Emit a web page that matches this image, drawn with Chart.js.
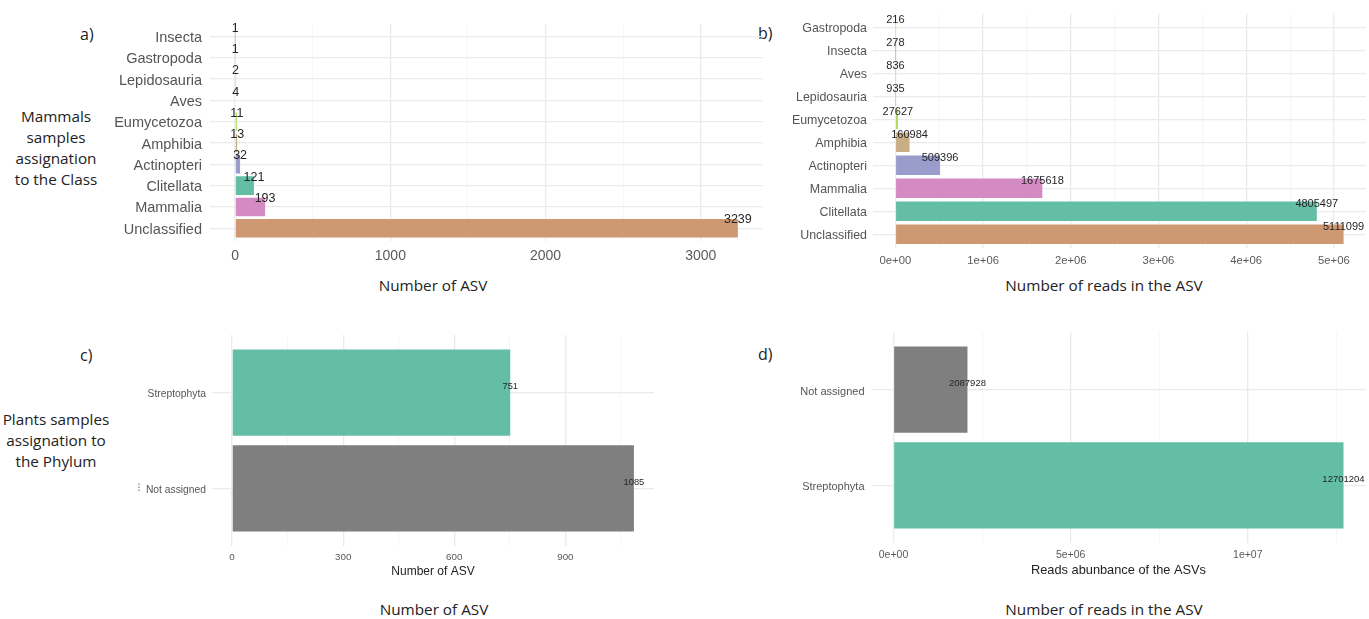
<!DOCTYPE html>
<html>
<head>
<meta charset="utf-8">
<script src="https://cdn.jsdelivr.net/npm/chart.js@4.4.1/dist/chart.umd.min.js"></script>
<style>
  html, body { margin: 0; padding: 0; background: #fff; }
  body { width: 1369px; height: 619px; position: relative; overflow: hidden; }
  .box { position: absolute; }
  .note { position: absolute; font-family: 'Open Sans', sans-serif; color: #222; white-space: nowrap; }
  .center { transform: translate(-50%, -50%); text-align: center; }
  .midy { transform: translateY(-50%); }
</style>
</head>
<body>

<div class="note midy" style="left:80px; top:34px; font-size:16px;">a)</div>
<div class="note midy" style="left:758px; top:33px; font-size:16px;">b)</div>
<div class="note midy" style="left:80px; top:355px; font-size:16px;">c)</div>
<div class="note midy" style="left:758px; top:354px; font-size:16px;">d)</div>

<div class="note center" style="left:56px; top:148px; font-size:15.3px; line-height:21px;">Mammals<br>samples<br>assignation<br>to the Class</div>
<div class="note center" style="left:56px; top:440px; font-size:15.3px; line-height:21px;">Plants samples<br>assignation to<br>the Phylum</div>
<div class="note center" style="left:139px; top:487px; font-size:12px; color:#888; font-family:'DejaVu Sans';">⁝</div>

<div class="note center" style="left:433px; top:285px; font-size:15.3px;">Number of ASV</div>
<div class="note center" style="left:1104px; top:285px; font-size:15.3px;">Number of reads in the ASV</div>
<div class="note center" style="left:434px; top:609px; font-size:15.3px;">Number of ASV</div>
<div class="note center" style="left:1104px; top:609px; font-size:15.3px;">Number of reads in the ASV</div>

<div class="box" style="left:110px; top:7px; width:655px; height:259px;"><canvas id="chartA"></canvas></div>
<div class="box" style="left:790px; top:0px; width:579px; height:272px;"><canvas id="chartB"></canvas></div>
<div class="box" style="left:112px; top:320px; width:544px; height:259px;"><canvas id="chartC"></canvas></div>
<div class="box" style="left:771px; top:317px; width:598px; height:261px;"><canvas id="chartD"></canvas></div>

<script>
// ---- Mammal samples: ASV counts per class (top to bottom) ----
const classesA = ['Insecta', 'Gastropoda', 'Lepidosauria', 'Aves', 'Eumycetozoa', 'Amphibia', 'Actinopteri', 'Clitellata', 'Mammalia', 'Unclassified'];
const asvA = [1, 1, 2, 4, 11, 13, 32, 121, 193, 3239];
const ticksA = [0, 1000, 2000, 3000];
const tickLabelsA = ['0', '1000', '2000', '3000'];
const minorA = [500, 1500, 2500];

// ---- Mammal samples: reads per class (top to bottom) ----
const classesB = ['Gastropoda', 'Insecta', 'Aves', 'Lepidosauria', 'Eumycetozoa', 'Amphibia', 'Actinopteri', 'Mammalia', 'Clitellata', 'Unclassified'];
const readsB = [216, 278, 836, 935, 27627, 160984, 509396, 1675618, 4805497, 5111099];
const ticksB = [0, 1e6, 2e6, 3e6, 4e6, 5e6];
const tickLabelsB = ['0e+00', '1e+06', '2e+06', '3e+06', '4e+06', '5e+06'];
const minorB = [0.5e6, 1.5e6, 2.5e6, 3.5e6, 4.5e6];

// ---- Plant samples: ASV counts per phylum ----
const phylaC = ['Streptophyta', 'Not assigned'];
const asvC = [751, 1085];
const ticksC = [0, 300, 600, 900];
const tickLabelsC = ['0', '300', '600', '900'];
const minorC = [150, 450, 750, 1050];

// ---- Plant samples: reads per phylum ----
const phylaD = ['Not assigned', 'Streptophyta'];
const readsD = [2087928, 12701204];
const ticksD = [0, 5e6, 1e7];
const tickLabelsD = ['0e+00', '5e+06', '1e+07'];
const minorD = [2.5e6, 7.5e6, 1.25e7];

const classColors = {
  Unclassified: '#CD9872', Mammalia: '#D48BC4', Clitellata: '#63BEA5', Actinopteri: '#9A9DCB',
  Amphibia: '#C8AD85', Eumycetozoa: '#A6D854', Aves: '#F0C48A', Lepidosauria: '#B3B3B3',
  Gastropoda: '#FFD92F', Insecta: '#FC8D62'
};
const phylumColors = { 'Streptophyta': '#63BEA5', 'Not assigned': '#7F7F7F' };

// Writes each bar's value at the end of the bar
const barValueLabels = {
  id: 'barValueLabels',
  afterDatasetsDraw(chart, args, opts) {
    const ctx = chart.ctx;
    const meta = chart.getDatasetMeta(0);
    const data = chart.data.datasets[0].data;
    ctx.save();
    ctx.font = opts.font;
    ctx.fillStyle = opts.color;
    ctx.textAlign = 'center';
    ctx.textBaseline = 'middle';
    meta.data.forEach((bar, i) => {
      const p = bar.getProps(['x', 'y', 'height'], true);
      const y = opts.anchor === 'top' ? p.y - p.height / 2 + opts.dy : p.y + opts.dy;
      ctx.fillText(String(data[i].x), p.x, y);
    });
    ctx.restore();
  }
};

function makeBarChart(id, cfg) {
  const n = cfg.cats.length;
  const maxV = Math.max(...cfg.values);
  const major = new Set(cfg.ticks);
  return new Chart(document.getElementById(id), {
    type: 'bar',
    data: {
      datasets: [{
        data: cfg.values.map((v, i) => ({ x: v, y: i })),
        backgroundColor: cfg.cats.map(c => cfg.colors[c]),
        borderWidth: 0,
        barPercentage: 1,
        categoryPercentage: cfg.barWidth
      }]
    },
    options: {
      indexAxis: 'y',
      responsive: true,
      maintainAspectRatio: false,
      animation: false,
      devicePixelRatio: 1,
      layout: { padding: { top: cfg.padTop, right: cfg.padRight, left: 0, bottom: 0 } },
      plugins: {
        legend: { display: false },
        tooltip: { enabled: false },
        barValueLabels: { font: cfg.valueFont, color: '#262626', anchor: cfg.anchor, dy: cfg.dy }
      },
      scales: {
        x: {
          type: 'linear',
          position: 'bottom',
          offset: false,
          min: -0.05 * maxV,
          max: 1.05 * maxV,
          border: { display: false },
          grid: {
            offset: false,
            drawTicks: false,
            color: c => major.has(c.tick.value) ? '#EBEBEB' : '#F4F4F4',
            lineWidth: c => major.has(c.tick.value) ? 1.3 : 0.8
          },
          afterBuildTicks: s => {
            s.ticks = cfg.ticks.concat(cfg.minor).sort((a, b) => a - b).map(v => ({ value: v }));
          },
          afterFit: s => { s.height = cfg.xAxisH; },
          ticks: {
            autoSkip: false,
            maxRotation: 0,
            padding: cfg.xPad,
            color: '#5a5a5a',
            font: { family: 'Liberation Sans', size: cfg.xTickSize },
            callback: v => {
              const k = cfg.ticks.indexOf(v);
              return k >= 0 ? cfg.tickLabels[k] : '';
            }
          },
          title: cfg.xTitle ? {
            display: true,
            text: cfg.xTitle,
            color: '#222',
            padding: 0,
            font: { family: 'Liberation Sans', size: cfg.xTitleSize }
          } : { display: false }
        },
        y: {
          type: 'linear',
          position: 'left',
          reverse: true,
          offset: false,
          min: -0.6,
          max: n - 0.4,
          border: { display: false },
          grid: { offset: false, drawTicks: false, color: '#EBEBEB', lineWidth: 1.3 },
          afterBuildTicks: s => { s.ticks = cfg.cats.map((c, i) => ({ value: i })); },
          afterFit: s => { s.width = cfg.yAxisW; },
          ticks: {
            autoSkip: false,
            padding: cfg.yPad,
            labelOffset: cfg.yLabelShift,
            color: '#555',
            font: { family: 'Liberation Sans', size: cfg.yTickSize },
            callback: v => cfg.cats[v]
          }
        }
      }
    },
    plugins: [barValueLabels]
  });
}

makeBarChart('chartA', {
  cats: classesA, values: asvA, colors: classColors,
  ticks: ticksA, tickLabels: tickLabelsA, minor: minorA,
  barWidth: 0.87, padTop: 14, padRight: 2, yAxisW: 100, xAxisH: 25,
  xPad: 7, yPad: 8, yLabelShift: 1.5, xTickSize: 14, yTickSize: 14.5,
  valueFont: '12.5px "Liberation Sans"', anchor: 'top', dy: 1
});

makeBarChart('chartB', {
  cats: classesB, values: readsB, colors: classColors,
  ticks: ticksB, tickLabels: tickLabelsB, minor: minorB,
  barWidth: 0.85, padTop: 7, padRight: 3, yAxisW: 83, xAxisH: 24,
  xPad: 6.4, yPad: 6, yLabelShift: 1.5, xTickSize: 11.3, yTickSize: 12.4,
  valueFont: '11px "Liberation Sans"', anchor: 'top', dy: 2.5
});

makeBarChart('chartC', {
  cats: phylaC, values: asvC, colors: phylumColors,
  ticks: ticksC, tickLabels: tickLabelsC, minor: minorC,
  barWidth: 0.9, padTop: 15, padRight: 2, yAxisW: 100, xAxisH: 33,
  xPad: 5.7, yPad: 6, yLabelShift: 2, xTickSize: 9.8, yTickSize: 10.3,
  xTitle: 'Number of ASV', xTitleSize: 12,
  valueFont: '9.3px "Liberation Sans"', anchor: 'center', dy: -6
});

makeBarChart('chartD', {
  cats: phylaD, values: readsD, colors: phylumColors,
  ticks: ticksD, tickLabels: tickLabelsD, minor: minorD,
  barWidth: 0.9, padTop: 15, padRight: 3, yAxisW: 100, xAxisH: 35,
  xPad: 6.2, yPad: 6.5, yLabelShift: 2, xTickSize: 10.5, yTickSize: 11,
  xTitle: 'Reads abunbance of the ASVs', xTitleSize: 12.8,
  valueFont: '9.5px "Liberation Sans"', anchor: 'center', dy: -6.4
});
</script>
</body>
</html>
